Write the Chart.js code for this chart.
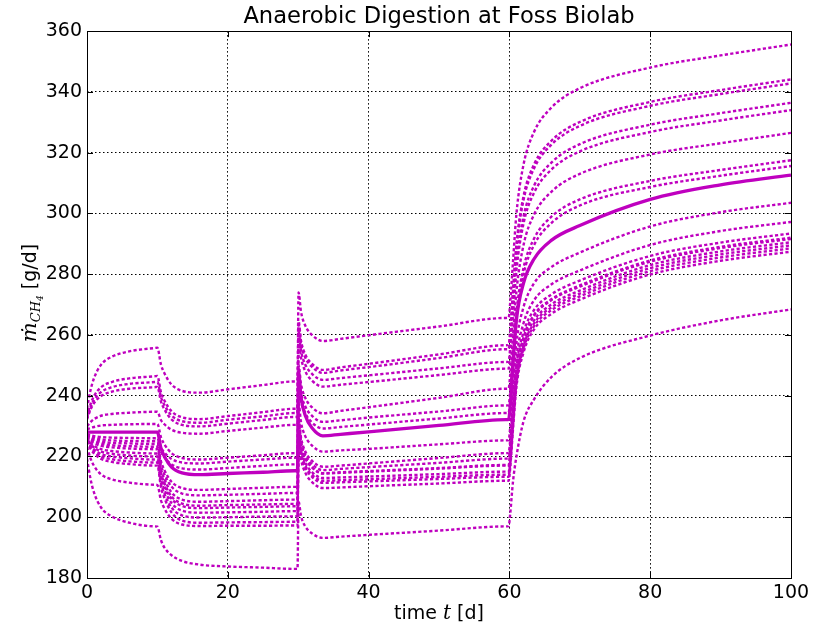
<!DOCTYPE html>
<html><head><meta charset="utf-8">
<script src="https://cdn.jsdelivr.net/npm/chart.js@4.4.0/dist/chart.umd.min.js"></script>
<style>html,body{margin:0;padding:0;background:#fff;}#wrap{width:814px;height:633px;}</style>
</head><body><div id="wrap"><canvas id="c" width="814" height="633"></canvas></div>
<script>
// time points [d]
const T = [0, 0.5, 1, 2, 3.5, 6, 9.6, 10, 10.5, 11, 12, 13.5, 16, 20, 25, 29.5, 29.9, 30.05, 30.4, 31, 32, 33.5, 36, 40, 50, 59.5, 59.9, 60.1, 60.5, 61, 62, 63.5, 66, 70, 80, 90, 100];

// nominal (bold) trajectory
const nominal = [228, 228, 228, 228, 228, 228, 228, 228,
  222.8, 220.0, 216.5, 214.6, 214.0, 214.4, 214.8, 215.3, 215.3,
  247.8, 239.4, 233.5, 229.3, 226.8, 227.3, 228.1, 230.2, 232.1, 232.2,
  236.2, 250, 265, 277, 285.0, 291.2, 296.0, 304.6, 309.4, 312.6];

// dotted runs
const run01 = [235.8, 241.8, 245.8, 250.2, 252.8, 254.6, 255.7, 255.8, 250.3, 247.4, 243.7, 241.6, 241.0, 242.1, 243.5, 244.7, 244.8, 274, 267.6, 263.1, 259.9, 258, 258.7, 259.9, 262.8, 265.6, 265.7, 270.2, 283.7, 299.9, 316.0, 326.8, 334.9, 341.2, 348.0, 352.0, 355.6];
const run02 = [233.2, 237.2, 239.9, 242.8, 244.5, 245.7, 246.4, 246.5, 241.2, 238.4, 234.9, 232.9, 232.3, 233.3, 234.6, 235.7, 235.8, 264.5, 258.1, 253.6, 250.4, 248.5, 249.3, 250.5, 253.6, 256.6, 256.7, 261.1, 274.2, 289.9, 305.6, 316.1, 324.0, 330.1, 336.7, 340.6, 344.1];
const run03 = [232.6, 236.2, 238.6, 241.2, 242.8, 243.9, 244.5, 244.6, 239.6, 236.9, 233.5, 231.6, 231.1, 232.1, 233.2, 234.3, 234.4, 263.5, 257.1, 252.6, 249.4, 247.5, 248.3, 249.4, 252.4, 255.3, 255.4, 259.8, 272.9, 288.6, 304.3, 314.8, 322.7, 328.8, 335.4, 339.3, 342.8];
const run04 = [232.2, 235.4, 237.6, 239.9, 241.3, 242.3, 242.8, 242.9, 238.1, 235.5, 232.2, 230.4, 229.9, 230.8, 232.0, 233.0, 233.1, 261.2, 254.8, 250.3, 247.1, 245.2, 245.8, 246.7, 249.0, 251.1, 251.2, 255.5, 268.2, 283.6, 298.9, 309.1, 316.8, 322.8, 329.2, 333.0, 336.4];
const run05 = [229.9, 231.3, 232.3, 233.4, 234.0, 234.4, 234.7, 234.7, 232.0, 230.6, 228.8, 227.8, 227.5, 228.4, 229.5, 230.4, 230.5, 259, 252.6, 248.1, 244.9, 243, 243.6, 244.5, 246.8, 248.9, 249, 253.3, 266.0, 281.3, 296.6, 306.8, 314.5, 320.4, 326.8, 330.6, 334.0];
const run06 = [228.8, 229.4, 229.7, 230.2, 230.4, 230.6, 230.7, 230.7, 226.4, 224.0, 221.1, 219.5, 219.0, 219.6, 220.4, 221.1, 221.2, 250.2, 243.8, 239.3, 236.1, 234.2, 235.0, 236.2, 239.3, 242.3, 242.4, 246.6, 259.2, 274.4, 289.5, 299.6, 307.2, 313.0, 319.4, 323.1, 326.5];
const run07 = [227.4, 227.0, 226.7, 226.4, 226.2, 226.1, 226.0, 226.0, 222.9, 221.3, 219.2, 218.0, 217.7, 218.3, 219.0, 219.6, 219.7, 247.4, 241.0, 236.5, 233.3, 231.4, 231.9, 232.8, 234.8, 236.8, 236.9, 240.9, 253.0, 267.5, 282.0, 291.7, 299.0, 304.6, 310.7, 314.3, 317.5];
const run08 = [227.2, 226.5, 226.1, 225.6, 225.3, 225.1, 225.0, 225.0, 221.6, 219.7, 217.4, 216.1, 215.7, 216.2, 216.9, 217.4, 217.5, 245.2, 238.8, 234.3, 231.1, 229.2, 229.7, 230.5, 232.5, 234.3, 234.4, 238.5, 250.6, 265.3, 279.9, 289.6, 296.9, 302.6, 308.7, 312.4, 315.6];
const run09 = [226.9, 226.1, 225.5, 224.9, 224.5, 224.3, 224.1, 224.1, 218.5, 215.5, 211.7, 209.6, 209.0, 209.3, 209.7, 210.0, 210.0, 237.6, 231.2, 226.7, 223.5, 221.6, 222.0, 222.5, 224.0, 225.3, 225.4, 229.3, 242.6, 257.4, 269.1, 277.0, 282.4, 287.1, 295.7, 300.4, 303.5];
const run10 = [226.7, 225.6, 225.0, 224.2, 223.7, 223.4, 223.2, 223.2, 217.3, 214.1, 210.1, 207.8, 207.2, 207.4, 207.7, 208.0, 208.0, 232.6, 226.2, 221.7, 218.5, 216.6, 217.0, 217.7, 219.5, 221.1, 221.2, 225.0, 237.9, 252.4, 263.8, 271.4, 276.7, 281.2, 289.6, 294.2, 297.2];
const run11 = [226.4, 225.2, 224.4, 223.5, 223.0, 222.6, 222.4, 222.4, 216.0, 212.5, 208.2, 205.8, 205.1, 205.3, 205.6, 205.8, 205.8, 231.5, 225.1, 220.6, 217.4, 215.5, 215.9, 216.5, 217.9, 219.3, 219.4, 223.1, 235.7, 249.7, 260.8, 268.2, 273.4, 277.9, 286.0, 290.4, 293.4];
const run12 = [226.0, 224.5, 223.5, 222.4, 221.8, 221.3, 221.0, 221.0, 214.6, 211.2, 206.9, 204.5, 203.8, 204.0, 204.2, 204.4, 204.4, 230.5, 224.1, 219.6, 216.4, 214.5, 214.8, 215.2, 216.2, 217.2, 217.2, 220.9, 233.7, 247.9, 259.1, 266.6, 271.8, 276.3, 284.5, 289.0, 292.0];
const run13 = [225.8, 224.1, 222.9, 221.6, 220.9, 220.3, 220.0, 220.0, 213.7, 210.3, 206.1, 203.7, 203.0, 203.2, 203.4, 203.6, 203.6, 230.4, 224.0, 219.5, 216.3, 214.4, 214.6, 215.0, 216.0, 217.0, 217.0, 220.7, 233.4, 247.6, 258.8, 266.2, 271.5, 275.9, 284.1, 288.6, 291.6];
const run14 = [225.5, 223.6, 222.3, 220.8, 220.0, 219.4, 219.0, 219.0, 212.5, 209.0, 204.7, 202.2, 201.5, 201.6, 201.8, 202.0, 202.0, 228.9, 222.5, 218.0, 214.8, 212.9, 213.1, 213.4, 214.2, 215.0, 215.0, 218.8, 231.6, 246.0, 257.3, 264.8, 270.1, 274.6, 283.0, 287.5, 290.5];
const run15 = [225.2, 223.0, 221.6, 220.0, 219.1, 218.4, 218.0, 218.0, 211.3, 207.7, 203.2, 200.6, 199.9, 200.0, 200.2, 200.3, 200.3, 228, 221.6, 217.1, 213.9, 212, 212.2, 212.5, 213.3, 214.0, 214, 217.8, 230.6, 245.0, 256.3, 263.8, 269.1, 273.6, 282.0, 286.5, 289.5];
const run16 = [224.9, 222.5, 221.0, 219.2, 218.2, 217.5, 217.0, 217.0, 210.0, 206.3, 201.6, 198.9, 198.2, 198.3, 198.4, 198.5, 198.5, 227.3, 220.9, 216.4, 213.2, 211.3, 211.5, 211.8, 212.6, 213.3, 213.3, 217.1, 229.8, 244.1, 255.4, 262.9, 268.2, 272.7, 281.0, 285.5, 288.5];
const run17 = [223.1, 219.4, 216.9, 214.1, 212.5, 211.4, 210.7, 210.6, 205.6, 202.9, 199.5, 197.6, 197.1, 197.2, 197.2, 197.3, 197.3, 225.6, 219.2, 214.7, 211.5, 209.6, 209.8, 210.2, 211.1, 212.0, 212.0, 215.8, 228.6, 242.9, 254.2, 261.8, 267.0, 271.6, 279.9, 284.4, 287.4];
const run18 = [219.3, 212.6, 208.1, 203.2, 200.3, 198.2, 197.0, 196.9, 192.5, 190.0, 187.5, 185.6, 184.4, 183.8, 183.4, 183.0, 183.0, 205.2, 200.4, 197.0, 194.6, 193.2, 193.6, 194.2, 195.6, 197.0, 197.1, 200.7, 211.5, 220.0, 231.5, 238.8, 246.2, 252.4, 259.8, 264.8, 268.4];

const xTicks = [0, 20, 40, 60, 80, 100];
const yTicks = [180, 200, 220, 240, 260, 280, 300, 320, 340, 360];
const titleText = 'Anaerobic Digestion at Foss Biolab';

const runs = [run01, run02, run03, run04, run05, run06, run07, run08, run09, run10, run11, run12, run13, run14, run15, run16, run17, run18];
const magenta = '#bf00bf';
const toPts = arr => T.map((t, i) => ({x: t, y: arr[i]}));
const common = {pointRadius: 0, pointHoverRadius: 0, fill: false, cubicInterpolationMode: 'monotone', borderColor: magenta, borderCapStyle: 'butt', borderJoinStyle: 'round'};
const datasets = [Object.assign({data: toPts(nominal), borderWidth: 3.3}, common)];
runs.forEach((r, k) => datasets.push(Object.assign({data: toPts(r), borderWidth: 2.4, borderDash: [3.2, 2.3], borderDashOffset: k === 12 ? 2.75 : 0}, common)));

const decor = {
  id: 'decor',
  afterDraw(chart) {
    const {ctx, chartArea: a, scales: {x, y}} = chart;
    ctx.save();
    ctx.setLineDash([]);
    ctx.strokeStyle = '#000';
    ctx.lineWidth = 1;
    ctx.beginPath();
    xTicks.forEach(v => {
      const p = Math.round(x.getPixelForValue(v)) + 0.5;
      ctx.moveTo(p, a.bottom); ctx.lineTo(p, a.bottom - 6);
      ctx.moveTo(p, a.top); ctx.lineTo(p, a.top + 6);
    });
    yTicks.forEach(v => {
      const p = Math.round(y.getPixelForValue(v)) + 0.5;
      ctx.moveTo(a.left, p); ctx.lineTo(a.left + 6, p);
      ctx.moveTo(a.right, p); ctx.lineTo(a.right - 6, p);
    });
    ctx.stroke();
    ctx.strokeRect(Math.round(a.left) + 0.5, Math.round(a.top) + 0.5, Math.round(a.right - a.left), Math.round(a.bottom - a.top));

    ctx.fillStyle = '#000';
    ctx.textBaseline = 'alphabetic';
    ctx.textAlign = 'left';
    // x label
    const xp = [['time ', '19px "DejaVu Sans"', 0], ['t', 'italic 20px "DejaVu Serif"', 0], [' [d]', '19px "DejaVu Sans"', 0]];
    let w = 0;
    xp.forEach(p => { ctx.font = p[1]; w += ctx.measureText(p[0]).width; });
    let cx = (a.left + a.right) / 2 - w / 2;
    xp.forEach(p => { ctx.font = p[1]; ctx.fillText(p[0], cx, 619 + p[2]); cx += ctx.measureText(p[0]).width; });
    // y label
    const yp = [['\u1E41', 'italic 21px "DejaVu Serif"', 0], ['CH', 'italic 13px "DejaVu Serif"', 4], ['4', 'italic 9px "DejaVu Serif"', 7], [' [g/d]', '19px "DejaVu Sans"', 0]];
    w = 0;
    yp.forEach(p => { ctx.font = p[1]; w += ctx.measureText(p[0]).width; });
    ctx.translate(36, 293 + w / 2);
    ctx.rotate(-Math.PI / 2);
    cx = 0;
    yp.forEach(p => { ctx.font = p[1]; ctx.fillText(p[0], cx, p[2]); cx += ctx.measureText(p[0]).width; });
    ctx.restore();
  }
};

const tickFont = {family: 'DejaVu Sans', size: 19};
new Chart(document.getElementById('c'), {
  type: 'line',
  data: {datasets},
  options: {
    responsive: false, animation: false, devicePixelRatio: 1,
    layout: {padding: {left: 0, right: 23, top: 0, bottom: 0}},
    plugins: {
      legend: {display: false}, tooltip: {enabled: false},
      title: {display: true, text: titleText, fullSize: false, color: '#000', font: {family: 'DejaVu Sans', size: 22.6, weight: 'normal', lineHeight: 1.2}, padding: {top: 4, bottom: 0}}
    },
    scales: {
      x: {type: 'linear', min: 0, max: 100,
        afterBuildTicks: s => { s.ticks = xTicks.map(v => ({value: v})); },
        afterFit: s => { s.height = 55; },
        grid: {color: '#000', lineWidth: 1, drawTicks: false},
        border: {display: false, dash: [1.5, 2.5]},
        ticks: {color: '#000', font: tickFont, padding: 4, maxRotation: 0, autoSkip: false}},
      y: {type: 'linear', min: 180, max: 360,
        afterBuildTicks: s => { s.ticks = yTicks.map(v => ({value: v})); },
        afterFit: s => { s.width = 87; },
        grid: {color: '#000', lineWidth: 1, drawTicks: false},
        border: {display: false, dash: [1.5, 2.5]},
        ticks: {color: '#000', font: tickFont, padding: 5, autoSkip: false}}
    }
  },
  plugins: [decor]
});
</script></body></html>
